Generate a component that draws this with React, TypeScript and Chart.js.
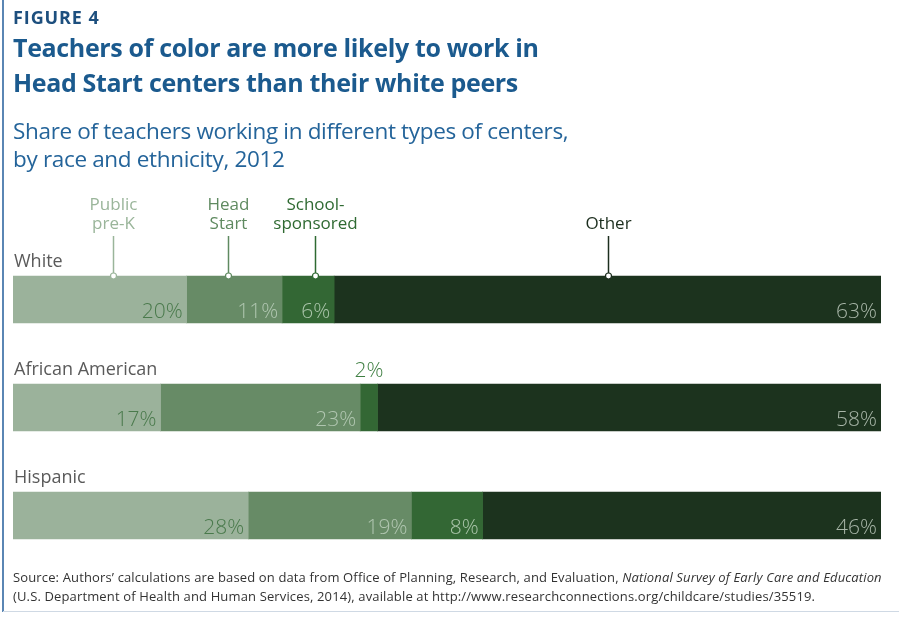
import React, { useEffect, useRef } from "react";
import { Chart, registerables } from "chart.js";

Chart.register(...registerables);

// ---- Data ----
const categories = ["White", "African American", "Hispanic"];
const seriesNames = ["Public pre-K", "Head Start", "School-sponsored", "Other"];
const legendLines = [["Public", "pre-K"], ["Head", "Start"], ["School-", "sponsored"], ["Other"]];
const publicPreK = [20, 17, 27.1];
const headStart = [11, 23, 18.8];
const schoolSponsored = [6, 2, 8.2];
const other = [63, 58, 45.9];
const publicPreKLabels = ["20%", "17%", "28%"];
const headStartLabels = ["11%", "23%", "19%"];
const schoolSponsoredLabels = ["6%", "2%", "8%"];
const otherLabels = ["63%", "58%", "46%"];

// style: where along each first-row segment the callout sits (fraction of segment width)
const calloutAnchor = [0.575, 0.43, 0.64, 0.5];

const barColors = ["#9bb29b", "#678b66", "#336734", "#1c331e"];
const legendColors = ["#9ab59a", "#5f8a60", "#2f6a32", "#1c2e1e"];
const valueColors = ["#4a7a4c", "#b0c6b0", "#a9c4a9", "#a7b5a7"];
const outsideValueColor = "#3f7f42";

const FONT = "'Open Sans', 'Noto Sans', sans-serif";

const labelPlugin = {
  id: "customLabels",
  afterDatasetsDraw(chart: any) {
    const ctx = chart.ctx;
    const valueLabels = [publicPreKLabels, headStartLabels, schoolSponsoredLabels, otherLabels];
    ctx.save();
    // value labels
    chart.data.datasets.forEach((ds: any, di: number) => {
      const meta = chart.getDatasetMeta(di);
      meta.data.forEach((bar: any, i: number) => {
        const p = bar.getProps(["x", "y", "base", "height"], true);
        const w = p.x - p.base;
        const txt = valueLabels[di][i];
        ctx.font = `300 21px ${FONT}`;
        if (w < 30) {
          ctx.fillStyle = outsideValueColor;
          ctx.textAlign = "center";
          ctx.textBaseline = "alphabetic";
          ctx.fillText(txt, (p.x + p.base) / 2, p.y - p.height / 2 - 7);
        } else {
          ctx.fillStyle = valueColors[di];
          ctx.textAlign = "right";
          ctx.textBaseline = "alphabetic";
          ctx.fillText(txt, p.x - 4, p.y + p.height / 2 - 5);
        }
      });
    });
    // row labels
    const meta0 = chart.getDatasetMeta(0);
    meta0.data.forEach((bar: any, i: number) => {
      const p = bar.getProps(["y", "height"], true);
      ctx.font = `400 18px ${FONT}`;
      ctx.fillStyle = "#5a5a5a";
      ctx.textAlign = "left";
      ctx.textBaseline = "alphabetic";
      ctx.fillText(categories[i], chart.chartArea.left + 1, p.y - p.height / 2 - 9);
    });
    // series callouts on first row
    chart.data.datasets.forEach((ds: any, di: number) => {
      const bar = chart.getDatasetMeta(di).data[0];
      const p = bar.getProps(["x", "y", "base", "height"], true);
      const cx = Math.round(p.base + (p.x - p.base) * calloutAnchor[di]) + 0.5;
      const top = p.y - p.height / 2;
      const col = legendColors[di];
      ctx.strokeStyle = col;
      ctx.lineWidth = 1.5;
      ctx.beginPath();
      ctx.moveTo(cx, top);
      ctx.lineTo(cx, top - 40);
      ctx.stroke();
      ctx.beginPath();
      ctx.arc(cx, top, 3, 0, Math.PI * 2);
      ctx.fillStyle = "#ffffff";
      ctx.fill();
      ctx.lineWidth = 1.2;
      ctx.stroke();
      ctx.font = `400 17px ${FONT}`;
      ctx.fillStyle = col;
      ctx.textAlign = "center";
      ctx.textBaseline = "alphabetic";
      const lines = legendLines[di];
      lines.forEach((ln, li) => {
        const y = top - 47 - (lines.length - 1 - li) * 19;
        ctx.fillText(ln, cx, y);
      });
    });
    ctx.restore();
  },
};

export default function App() {
  const ref = useRef<HTMLCanvasElement | null>(null);
  useEffect(() => {
    document.body.style.margin = "0";
    const canvas = ref.current;
    if (!canvas) return;
    const series = [publicPreK, headStart, schoolSponsored, other];
    const chart = new Chart(canvas, {
      type: "bar",
      data: {
        labels: categories,
        datasets: seriesNames.map((name, i) => ({
          label: name,
          data: series[i],
          backgroundColor: barColors[i],
          borderWidth: 0,
          barThickness: 47,
        })),
      },
      options: {
        indexAxis: "y",
        responsive: false,
        animation: false,
        devicePixelRatio: 1,
        layout: { padding: { left: 13, right: 18, top: 245.5, bottom: 50.5 } },
        scales: {
          x: { stacked: true, min: 0, max: 100, display: false },
          y: { stacked: true, display: false },
        },
        plugins: { legend: { display: false }, tooltip: { enabled: false }, title: { display: false } },
      },
      plugins: [labelPlugin],
    } as any);
    return () => chart.destroy();
  }, []);

  const abs = (top: number, extra: React.CSSProperties = {}): React.CSSProperties => ({
    position: "absolute",
    left: 13,
    top,
    margin: 0,
    fontFamily: FONT,
    whiteSpace: "nowrap",
    ...extra,
  });

  return (
    <div style={{ position: "relative", width: 899, height: 620, overflow: "hidden", background: "#fff" }}>
      <canvas ref={ref} width={899} height={620} style={{ position: "absolute", left: 0, top: 0, display: "block" }} />
      <div style={{ position: "absolute", left: 2, top: 0, width: 2, height: 612, background: "#5a86b4" }} />
      <div style={{ position: "absolute", left: 3, top: 611, right: 0, height: 1, background: "#cfd9e4" }} />
      <div style={abs(3, { fontSize: 18, fontWeight: 700, color: "#1d4f7e", lineHeight: "28px", letterSpacing: 0.9 })}>FIGURE 4</div>
      <div style={abs(30, { fontSize: 25, fontWeight: 700, color: "#1b5a8e", lineHeight: "35px", letterSpacing: -0.35 })}>
        Teachers of color are more likely to work in
        <br />
        Head Start centers than their white peers
      </div>
      <div style={abs(117, { fontSize: 22.5, fontWeight: 400, color: "#24649a", lineHeight: "28px", letterSpacing: -0.33 })}>
        Share of teachers working in different types of centers,
        <br />
        by race and ethnicity, 2012
      </div>
      <div style={abs(568, { fontSize: 13, fontWeight: 400, color: "#333", lineHeight: "19px", letterSpacing: 0.14 })}>
        Source: Authors’ calculations are based on data from Office of Planning, Research, and Evaluation,{" "}
        <i>National Survey of Early Care and Education</i>
        <br />
        (U.S. Department of Health and Human Services, 2014), available at http://www.researchconnections.org/childcare/studies/35519.
      </div>
    </div>
  );
}
